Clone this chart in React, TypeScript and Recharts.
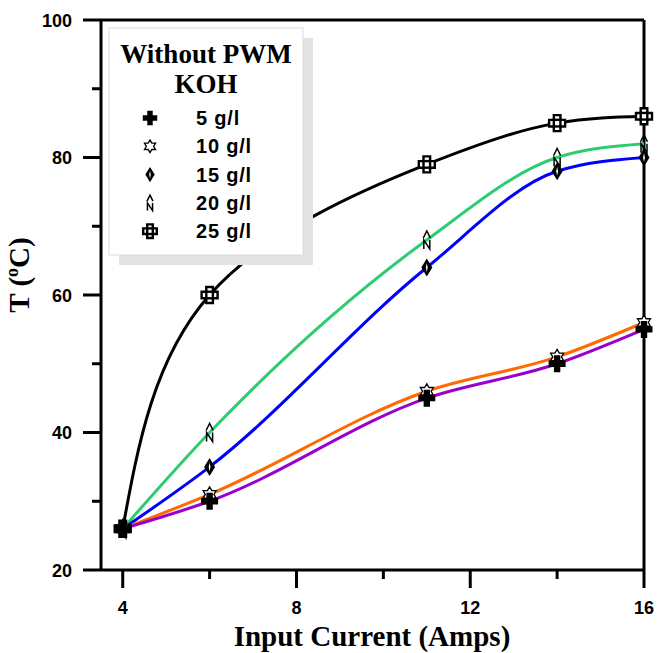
import React from 'react';
import { LineChart, Line, XAxis, YAxis, ReferenceLine } from 'recharts';

// KOH concentration series, temperature (°C) vs input current (A)
const currents = [4, 6, 11, 14, 16];
const koh5 = [26, 30, 45, 50, 55];
const koh10 = [26, 31, 46, 51, 56];
const koh15 = [26, 35, 64, 78, 80];
const koh20 = [26, 40, 68, 80, 82];
const koh25 = [26, 60, 79, 85, 86];
const seriesNames = ['5 g/l', '10 g/l', '15 g/l', '20 g/l', '25 g/l'];
const xTicks = [4, 6, 8, 10, 12, 14, 16];
const yTicks = [20, 30, 40, 50, 60, 70, 80, 90, 100];

const data = currents.map((c, i) => ({
  current: c,
  k5: koh5[i],
  k10: koh10[i],
  k15: koh15[i],
  k20: koh20[i],
  k25: koh25[i],
}));

const sans = "Arial, 'Liberation Sans', sans-serif";
const serif = "'Times New Roman', 'Liberation Serif', serif";

type MarkProps = { cx: number; cy: number; s?: number };

const PlusMark = ({ cx, cy, s = 1 }: MarkProps) => {
  const h = 8.5 * s;
  const w = 3.2 * s;
  return (
    <path
      d={`M${cx - w},${cy - h}H${cx + w}V${cy - w}H${cx + h}V${cy + w}H${cx + w}V${cy + h}H${cx - w}V${cy + w}H${cx - h}V${cy - w}H${cx - w}Z`}
      fill="#000"
    />
  );
};

const StarMark = ({ cx, cy, s = 1 }: MarkProps) => {
  const R = 7.5 * s;
  const r = R / Math.sqrt(3);
  const pts: string[] = [];
  for (let i = 0; i < 12; i++) {
    const a = (Math.PI / 6) * i - Math.PI / 2;
    const rad = i % 2 === 0 ? R : r;
    pts.push(`${cx + rad * Math.cos(a)},${cy + rad * Math.sin(a)}`);
  }
  return <polygon points={pts.join(' ')} fill="#fff" stroke="#000" strokeWidth={1.3} />;
};

const DiamondMark = ({ cx, cy, s = 1 }: MarkProps) => (
  <g>
    <path d={`M${cx},${cy - 9 * s}L${cx + 5.5 * s},${cy}L${cx},${cy + 9 * s}L${cx - 5.5 * s},${cy}Z`} fill="#000" />
    <path d={`M${cx},${cy - 4.5 * s}L${cx + 0.9 * s},${cy}L${cx},${cy + 4.5 * s}L${cx - 0.9 * s},${cy}Z`} fill="#fff" />
  </g>
);

const NorthMark = ({ cx, cy, s = 1 }: MarkProps) => (
  <g fill="none" stroke="#000" strokeWidth={1.5}>
    <path d={`M${cx - 3.5 * s},${cy - 2 * s}L${cx},${cy - 9 * s}L${cx + 3.5 * s},${cy - 2 * s}`} />
    <path d={`M${cx - 3 * s},${cy + 9 * s}V${cy}L${cx + 3 * s},${cy + 9 * s}V${cy}`} />
  </g>
);

const SquareCrossMark = ({ cx, cy, s = 1 }: MarkProps) => {
  const h = 8 * s;
  const w = 3.3 * s;
  return (
    <g fill="#fff" stroke="#000" strokeWidth={2.4}>
      <path
        d={`M${cx - w},${cy - h}H${cx + w}V${cy - w}H${cx + h}V${cy + w}H${cx + w}V${cy + h}H${cx - w}V${cy + w}H${cx - h}V${cy - w}H${cx - w}Z`}
      />
      <rect x={cx - w} y={cy - w} width={2 * w} height={2 * w} />
    </g>
  );
};

const series = [
  { key: 'k25', name: seriesNames[4], color: '#000000', curve: 'natural', Mark: SquareCrossMark },
  { key: 'k20', name: seriesNames[3], color: '#2ecc71', curve: 'monotone', Mark: NorthMark },
  { key: 'k15', name: seriesNames[2], color: '#0000ff', curve: 'monotone', Mark: DiamondMark },
  { key: 'k10', name: seriesNames[1], color: '#ff6a00', curve: 'monotone', Mark: StarMark },
  { key: 'k5', name: seriesNames[0], color: '#9900cc', curve: 'monotone', Mark: PlusMark },
];

const XTick = ({ x, y, payload }: any) => {
  const major = payload.value % 4 === 0;
  return (
    <g>
      <line x1={x} x2={x} y1={y} y2={y + (major ? 18 : 9)} stroke="#000" strokeWidth={3} />
      {major && (
        <text x={x} y={y + 44} textAnchor="middle" fontFamily={sans} fontWeight="bold" fontSize={18} fill="#000">
          {payload.value}
        </text>
      )}
    </g>
  );
};

const YTick = ({ x, y, payload }: any) => {
  const major = payload.value % 20 === 0;
  return (
    <g>
      <line x1={x - (major ? 18 : 9)} x2={x} y1={y} y2={y} stroke="#000" strokeWidth={3} />
      {major && (
        <text x={x - 29} y={y + 6.5} textAnchor="end" fontFamily={sans} fontWeight="bold" fontSize={18} fill="#000">
          {payload.value}
        </text>
      )}
    </g>
  );
};

const legendRows = [...series].reverse();

const App = () => {
  return (
    <div style={{ position: 'relative', width: 659, height: 653, background: '#fff' }}>
      <style>{'body{margin:0}'}</style>
      <LineChart width={659} height={653} data={data} margin={{ top: 20, right: 15, bottom: 23, left: 21 }}>
        <XAxis
          dataKey="current"
          type="number"
          domain={[3.5, 16]}
          ticks={xTicks}
          interval={0}
          height={60}
          tickSize={0}
          tickMargin={0}
          tickLine={false}
          tick={<XTick />}
          axisLine={{ stroke: '#000', strokeWidth: 3 }}
        />
        <YAxis
          type="number"
          domain={[20, 100]}
          ticks={yTicks}
          interval={0}
          width={80}
          tickSize={0}
          tickMargin={0}
          tickLine={false}
          tick={<YTick />}
          axisLine={{ stroke: '#000', strokeWidth: 3 }}
        />
        <ReferenceLine y={100} stroke="#000" strokeWidth={3} />
        <ReferenceLine x={16} stroke="#000" strokeWidth={3} />
        {series.map(({ key, Mark }) => (
          <Line
            key={`m-${key}`}
            dataKey={key}
            stroke="none"
            isAnimationActive={false}
            activeDot={false}
            dot={(p: any) => <Mark key={`${key}-${p.index}`} cx={p.cx} cy={p.cy} />}
          />
        ))}
        {series.map(({ key, color, curve }) => (
          <Line
            key={`l-${key}`}
            type={curve as any}
            dataKey={key}
            stroke={color}
            strokeWidth={3}
            dot={false}
            activeDot={false}
            isAnimationActive={false}
          />
        ))}
      </LineChart>
      <svg width={659} height={653} style={{ position: 'absolute', left: 0, top: 0, pointerEvents: 'none' }}>
        <text
          transform="translate(29,275) rotate(-90)"
          textAnchor="middle"
          fontFamily={serif}
          fontWeight="bold"
          fontSize={29}
          fill="#000"
        >
          T (<tspan fontSize={18} dy={-11}>o</tspan>
          <tspan dy={11}>C)</tspan>
        </text>
        <text x={372} y={646} textAnchor="middle" fontFamily={serif} fontWeight="bold" fontSize={29} fill="#000">
          Input Current (Amps)
        </text>
        <rect x={119} y={38} width={194} height={227} fill="#e3e3e3" />
        <rect x={109} y={28} width={194} height={227} fill="#fff" stroke="#dcdcdc" strokeWidth={1} />
        <text x={206} y={63} textAnchor="middle" fontFamily={serif} fontWeight="bold" fontSize={27} fill="#000">
          Without PWM
        </text>
        <text x={206} y={93} textAnchor="middle" fontFamily={serif} fontWeight="bold" fontSize={27} fill="#000">
          KOH
        </text>
        {legendRows.map(({ key, name, Mark }, i) => {
          const cy = 118 + i * 28.3;
          return (
            <g key={`lg-${key}`}>
              <Mark cx={150} cy={cy} s={0.85} />
              <text x={196} y={cy + 7} fontFamily={sans} fontWeight="bold" fontSize={20} letterSpacing={0.8} fill="#000">
                {name}
              </text>
            </g>
          );
        })}
      </svg>
    </div>
  );
};

export default App;
